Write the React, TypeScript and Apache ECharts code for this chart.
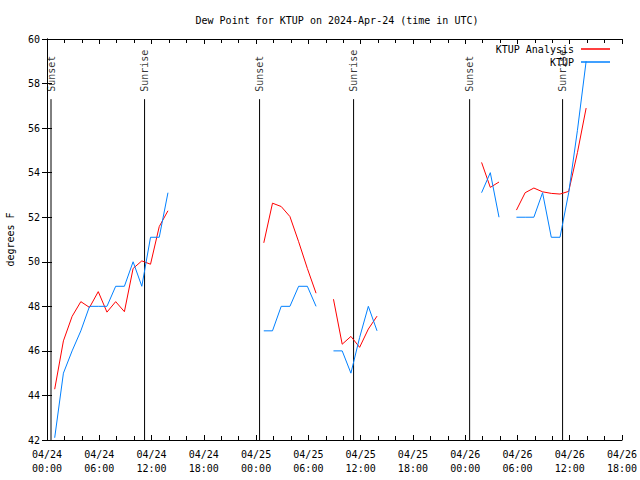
import React, { useEffect, useRef } from "react";
import * as echarts from "echarts";

// Hours since 2024-04-24 00:00 UTC; observations at hh:53
const obsOffset = 53 / 60;

const xTickLabels = [
  "04/24\n00:00", "04/24\n06:00", "04/24\n12:00", "04/24\n18:00",
  "04/25\n00:00", "04/25\n06:00", "04/25\n12:00", "04/25\n18:00",
  "04/26\n00:00", "04/26\n06:00", "04/26\n12:00", "04/26\n18:00",
];

// KTUP Analysis (red), index = hour
const analysisValues: (number | null)[] = [
  44.28, 46.45, 47.55, 48.21, 47.95, 48.66, 47.74, 48.21, 47.76, 49.7,
  50.04, 49.89, 51.58, 52.29, null, null, null, null, null, null,
  null, null, null, null, 50.85, 52.63, 52.48, 52.03, 50.9, 49.7,
  48.59, null, 48.32, 46.3, 46.65, 46.16, 46.98, 47.56, null, null,
  null, null, null, null, null, null, null, null, null, 54.46,
  53.34, 53.58, null, 52.32, 53.1, 53.31, 53.14, 53.07, 53.04, 53.16,
  54.9, 56.9,
];

// KTUP observations (blue), index = hour
const ktupValues: (number | null)[] = [
  42.1, 45.0, 46.0, 46.9, 48.0, 48.0, 48.0, 48.9, 48.9, 50.0,
  48.9, 51.1, 51.1, 53.1, null, null, null, null, null, null,
  null, null, null, null, 46.9, 46.9, 48.0, 48.0, 48.9, 48.9,
  48.0, null, 46.0, 46.0, 45.0, 46.6, 48.0, 46.9, null, null,
  null, null, null, null, null, null, null, null, null, 53.1,
  54.0, 52.0, null, 52.0, 52.0, 52.0, 53.1, 51.1, 51.1, 53.1,
  55.9, 59.0,
];

const sunHours = [0.46, 11.2, 24.4, 35.19, 48.51, 59.18];
const sunLabels = ["Sunset", "Sunrise", "Sunset", "Sunrise", "Sunset", "Sunrise"];

const yMin = 42;
const yMax = 60;
const sunLineTop = 57.3;
const sunLabelBase = 57.63;

const FONT = "DejaVu Sans Mono";
const FS = 10;

export default function App() {
  const ref = useRef<HTMLDivElement>(null);
  useEffect(() => {
    if (!ref.current) return;
    const chart = echarts.init(ref.current, undefined, { renderer: "svg" });

    const toData = (vals: (number | null)[]) =>
      vals.map((v, i) => [i + obsOffset, v === null ? null : v]);

    const sunSeries: any[] = sunHours.map((h, i) => ({
      name: "sun" + i,
      type: "line",
      data: [[h, yMin], [h, sunLineTop]],
      showSymbol: false,
      symbol: "none",
      silent: true,
      lineStyle: { color: "#000", width: 1 },
      z: 1,
    }));

    const axisCommon = {
      axisLine: { show: true, lineStyle: { color: "#000", width: 1 } },
      splitLine: { show: false },
    };

    chart.setOption({
      animation: false,
      backgroundColor: "#fff",
      title: {
        text: "Dew Point for KTUP on 2024-Apr-24 (time in UTC)",
        left: 332,
        top: 10,
        textAlign: "center",
        textStyle: { fontFamily: FONT, fontSize: FS, fontWeight: "normal", color: "#000" },
      },
      legend: {
        data: ["KTUP Analysis", "KTUP"],
        orient: "vertical",
        right: 25,
        top: 38,
        align: "right",
        itemWidth: 29,
        itemHeight: 1.5,
        itemGap: 1,
        icon: "rect",
        textStyle: { fontFamily: FONT, fontSize: FS, color: "#000", lineHeight: 12, padding: [0, 2, 0, 0] },
      },
      grid: { left: 47, right: 18, top: 39, bottom: 40, containLabel: false, outerBoundsMode: "none" },
      xAxis: [
        {
          type: "value",
          min: 0,
          max: 66,
          interval: 6,
          ...axisCommon,
          axisTick: { show: true, inside: true, length: 5, lineStyle: { color: "#000" } },
          minorTick: { show: true, splitNumber: 3, length: 4, lineStyle: { color: "#000" } },
          axisLabel: {
            fontFamily: FONT,
            fontSize: FS,
            color: "#000",
            lineHeight: 14,
            margin: 7,
            formatter: (v: number) => xTickLabels[Math.round(v / 6)] ?? "",
          },
        },
        {
          type: "value",
          position: "top",
          min: 0,
          max: 66,
          interval: 6,
          ...axisCommon,
          axisTick: { show: true, inside: true, length: 5, lineStyle: { color: "#000" } },
          minorTick: { show: true, splitNumber: 3, length: 4, lineStyle: { color: "#000" } },
          axisLabel: { show: false },
        },
      ],
      yAxis: [
        {
          type: "value",
          min: yMin,
          max: yMax,
          interval: 2,
          name: "degrees F",
          nameLocation: "middle",
          nameGap: 32,
          nameRotate: 90,
          nameTextStyle: { fontFamily: FONT, fontSize: FS, color: "#000" },
          ...axisCommon,
          axisTick: { show: true, inside: true, length: 5, lineStyle: { color: "#000" } },
          axisLabel: { fontFamily: FONT, fontSize: FS, color: "#000", margin: 7 },
        },
        {
          type: "value",
          position: "right",
          min: yMin,
          max: yMax,
          interval: 2,
          ...axisCommon,
          axisTick: { show: true, inside: true, length: 5, lineStyle: { color: "#000" } },
          axisLabel: { show: false },
        },
      ],
      series: [
        ...sunSeries,
        {
          name: "sunLabels",
          type: "scatter",
          symbolSize: 0,
          silent: true,
          data: sunHours.map((h, i) => ({ value: [h, sunLabelBase], name: sunLabels[i] })),
          label: {
            show: true,
            position: [0, 0],
            rotate: 90,
            align: "left",
            verticalAlign: "middle",
            formatter: (p: any) => p.name,
            fontFamily: FONT,
            fontSize: FS,
            color: "#000",
          },
        },
        {
          name: "KTUP Analysis",
          type: "line",
          data: toData(analysisValues),
          showSymbol: false,
          symbol: "none",
          connectNulls: false,
          color: "#ff0000",
          lineStyle: { color: "#ff0000", width: 1 },
          z: 3,
        },
        {
          name: "KTUP",
          type: "line",
          data: toData(ktupValues),
          showSymbol: false,
          symbol: "none",
          connectNulls: false,
          color: "#0080ff",
          lineStyle: { color: "#0080ff", width: 1 },
          z: 4,
        },
      ],
    });
    return () => chart.dispose();
  }, []);
  return <div ref={ref} style={{ width: 640, height: 480, position: "absolute", left: 0, top: 0 }} />;
}
